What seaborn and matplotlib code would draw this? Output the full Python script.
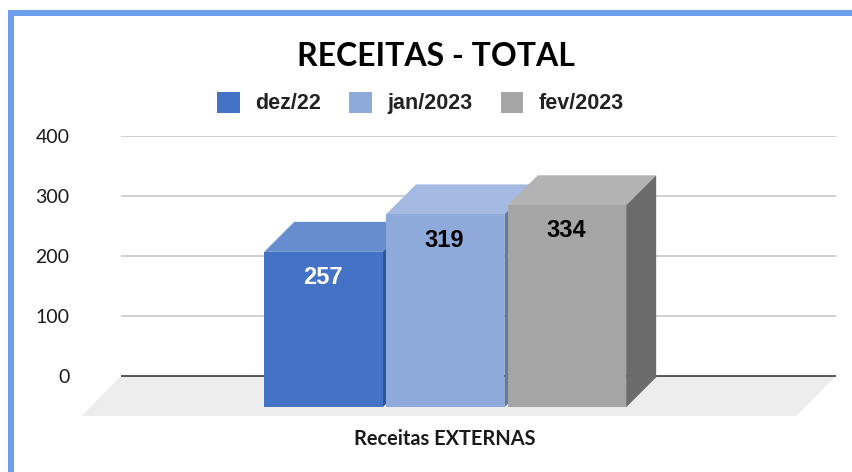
import pandas as pd
import matplotlib
matplotlib.use("Agg")
import matplotlib.pyplot as plt
import seaborn as sns
from matplotlib.patches import Polygon, Rectangle

# ── DATA ───────────────────────────────────────────────
category = ["Receitas EXTERNAS"]
periods = ["dez/22", "jan/2023", "fev/2023"]
values = [257, 319, 334]
y_ticks = [0, 100, 200, 300, 400]

# ── COLOURS ────────────────────────────────────────────
front_colors = ["#4472C4", "#8EAADB", "#A5A5A5"]
top_colors = ["#678DCF", "#A5BAE2", "#B3B3B3"]
side_colors = ["#2F5597", "#5F7BA6", "#6B6B6B"]
label_colors = ["white", "black", "black"]

# ── PIXEL LAYOUT ───────────────────────────────────────
W, H = 852, 472
AX_L, AX_R, AX_T, AX_B = 121, 836, 136, 420
Y0 = 376           # pixel row of value 0 on the back wall
PX_Y = 0.6         # px per unit on the back wall
PX_X = 456.5       # px per category unit
X0 = 445.2         # pixel column of the category centre
FRONT_SCALE = 1.008
BAR_BOTTOM = -(407.3 - Y0) / PX_Y
DEPTH_X, DEPTH_Y = 30 / PX_X, 30 / PX_Y
FLOOR_X, FLOOR_Y = 39.5 / PX_X, 40 / PX_Y

df = pd.DataFrame({
    "categoria": category * len(periods),
    "periodo": periods,
    "altura": [v * FRONT_SCALE for v in values],
})

sns.set_style("white")
fig = plt.figure(figsize=(W / 100, H / 100), dpi=100)
ax = fig.add_axes([AX_L / W, 1 - AX_B / H, (AX_R - AX_L) / W, (AX_B - AX_T) / H])

sns.barplot(data=df, x="categoria", y="altura", hue="periodo", hue_order=periods,
            palette=front_colors, width=0.8, gap=0.027,
            saturation=1, linewidth=0, ax=ax)
bars = [c[0] for c in ax.containers]

ax.set_xlim((AX_L - X0) / PX_X, (AX_R - X0) / PX_X)
ax.set_ylim((Y0 - AX_B) / PX_Y, 400)
ax.set_xlabel("")
ax.set_ylabel("")
sns.despine(ax=ax, left=True, bottom=True, top=True, right=True)

# ── GRID + FLOOR ───────────────────────────────────────
for t in y_ticks[1:]:
    ax.axhline(t, color="#C8C8C8", lw=1.2, zorder=1)
x_lo, x_hi = ax.get_xlim()
ax.add_patch(Polygon([(x_lo, 0), (x_hi, 0), (x_hi - FLOOR_X, -FLOOR_Y), (x_lo - FLOOR_X, -FLOOR_Y)],
                     closed=True, facecolor="#EDEDED", edgecolor="none", zorder=1.5, clip_on=False))
ax.axhline(0, color="#2B2B2B", lw=1.1, zorder=2)

# ── 3D FACES ───────────────────────────────────────────
# the bars sit on the front of the floor, so they start below zero
for i, bar in enumerate(bars):
    bar.set_y(BAR_BOTTOM)
    x, w = bar.get_x(), bar.get_width()
    y_top = BAR_BOTTOM + bar.get_height()
    z = 3 + i
    bar.set_zorder(z + 0.2)
    ax.add_patch(Polygon([(x, y_top), (x + w, y_top), (x + w + DEPTH_X, y_top + DEPTH_Y), (x + DEPTH_X, y_top + DEPTH_Y)],
                         closed=True, facecolor=top_colors[i], edgecolor="none", zorder=z, clip_on=False))
    ax.add_patch(Polygon([(x + w, BAR_BOTTOM), (x + w + DEPTH_X, BAR_BOTTOM + DEPTH_Y),
                          (x + w + DEPTH_X, y_top + DEPTH_Y), (x + w, y_top)],
                         closed=True, facecolor=side_colors[i], edgecolor="none", zorder=z, clip_on=False))
    ax.annotate(str(values[i]), (x + w / 2, y_top), xytext=(-0.6, -18.5), textcoords="offset points",
                ha="center", va="center", fontsize=17, fontweight="bold", family="Liberation Sans",
                color=label_colors[i], zorder=10)

# ── TICKS ──────────────────────────────────────────────
ax.set_yticks(y_ticks)
ax.set_yticklabels([str(t) for t in y_ticks], fontsize=14, family="Lato", color="#1A1A1A")
ax.set_xticks([0])
ax.set_xticklabels(category, fontsize=14.4, fontweight="bold", family="Lato", color="#1A1A1A")
ax.tick_params(axis="y", length=0, pad=37.2)
ax.tick_params(axis="x", length=0, pad=6.6)

# ── LEGEND + TITLE ─────────────────────────────────────
handles, labels = ax.get_legend_handles_labels()
leg = ax.legend(handles, labels, ncol=3, frameon=False, loc="center",
                bbox_to_anchor=(420.5 / W, 1 - 103 / H), bbox_transform=fig.transFigure,
                prop={"family": "Liberation Sans", "weight": "bold", "size": 15.5},
                handlelength=1.06, handleheight=1.15, handletextpad=0.72, columnspacing=1.3,
                labelcolor="#222222", borderpad=0)

fig.text(435.5 / W, 1 - 56 / H, "RECEITAS - TOTAL", ha="center", va="center",
         fontsize=23, fontweight="bold", family="Lato", color="black")

# ── BLUE BORDER ────────────────────────────────────────
border = "#6D9EEB"
fig.add_artist(Rectangle((8 / W, 1 - 15.5 / H), (W - 8) / W, 5.5 / H, transform=fig.transFigure,
                         facecolor=border, edgecolor="none"))
fig.add_artist(Rectangle((8 / W, 0), 6 / W, 1 - 10 / H, transform=fig.transFigure,
                         facecolor=border, edgecolor="none"))

fig.savefig("out.png", dpi=100)
